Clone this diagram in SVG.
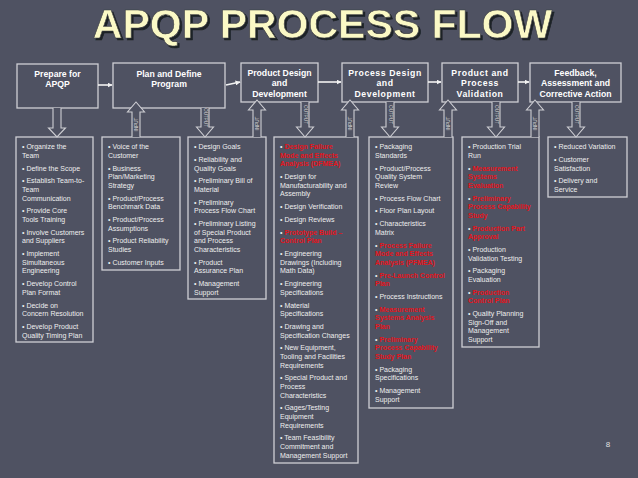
<svg xmlns="http://www.w3.org/2000/svg" width="638" height="478" viewBox="0 0 638 478">
<defs>
<marker id="ah" viewBox="0 0 10 10" refX="9" refY="5" markerWidth="5" markerHeight="5" orient="auto" markerUnits="userSpaceOnUse">
<path d="M0,0 L10,5 L0,10 Z" fill="#f2f2f2"/>
</marker>
<filter id="sh" x="-5%" y="-20%" width="110%" height="150%">
<feDropShadow dx="2" dy="2" stdDeviation="0.4" flood-color="#1f2027" flood-opacity="1"/>
</filter>
<style>
.bg{fill:#4f5262}
.box{fill:#4f5262;stroke:#cfcfd4;stroke-width:1.3}
.hd{font-family:"Liberation Sans",Arial,sans-serif;font-weight:bold;font-size:8.7px;fill:#ffffff;text-anchor:middle}
.hs{letter-spacing:0.6px}
.tx{font-family:"Liberation Sans",Arial,sans-serif;font-size:7px;fill:#eeeeee}
.r{fill:#e3141c;font-weight:bold}
.ln{stroke:#f2f2f2;stroke-width:1.6;fill:none}
.ba{fill:#4f5262;stroke:#cfcfd4;stroke-width:1.1}
.lb{font-family:"Liberation Sans",Arial,sans-serif;font-size:4.6px;fill:#d8d8d8;text-anchor:middle;dominant-baseline:central}
</style>
</defs>
<rect class="bg" x="0" y="0" width="638" height="478"/>
<g id="title">
<text x="322.5" y="38" font-family="'Liberation Sans',Arial,sans-serif" font-weight="bold" font-size="41" text-anchor="middle" fill="#fbf9c6" stroke="#3a3b40" stroke-width="0.6" filter="url(#sh)">APQP PROCESS FLOW</text>
</g>
<g id="prepare">
<rect class="box" x="17" y="64" width="81" height="44"/>
<text class="hd"><tspan x="57.5" y="76.5">Prepare for</tspan><tspan x="57.5" y="87">APQP</tspan></text>
</g>
<g id="plan">
<rect class="box" x="113" y="63" width="112" height="45"/>
<text class="hd"><tspan x="169" y="76.5">Plan and Define</tspan><tspan x="169" y="87">Program</tspan></text>
</g>
<g id="product-design">
<rect class="box" x="241" y="63" width="77" height="39"/>
<text class="hd"><tspan x="279.5" y="75.8">Product Design</tspan><tspan x="279.5" y="86.3">and</tspan><tspan x="279.5" y="96.8">Development</tspan></text>
</g>
<g id="process-design">
<rect class="box" x="342" y="63" width="86" height="39"/>
<text class="hd hs"><tspan x="385" y="75.8">Process Design</tspan><tspan x="385" y="86.3">and</tspan><tspan x="385" y="96.8">Development</tspan></text>
</g>
<g id="validation">
<rect class="box" x="442" y="63" width="76" height="39"/>
<text class="hd hs"><tspan x="480" y="75.8">Product and</tspan><tspan x="480" y="86.3">Process</tspan><tspan x="480" y="96.8">Validation</tspan></text>
</g>
<g id="feedback">
<rect class="box" x="530" y="63" width="91" height="39"/>
<text class="hd"><tspan x="575.5" y="75.8">Feedback,</tspan><tspan x="575.5" y="86.3">Assessment and</tspan><tspan x="575.5" y="96.8">Corrective Action</tspan></text>
</g>
<g id="col-prepare">
<rect class="box" x="16" y="137" width="77" height="205"/>
<text class="tx">
<tspan x="22" y="149.2">• Organize the</tspan><tspan x="22" dy="8.6">Team</tspan>
<tspan x="22" dy="12.8">• Define the Scope</tspan>
<tspan x="22" dy="12.8">• Establish Team-to-</tspan><tspan x="22" dy="8.6">Team</tspan><tspan x="22" dy="8.6">Communication</tspan>
<tspan x="22" dy="12.8">• Provide Core</tspan><tspan x="22" dy="8.6">Tools Training</tspan>
<tspan x="22" dy="12.8">• Involve Customers</tspan><tspan x="22" dy="8.6">and Suppliers</tspan>
<tspan x="22" dy="12.8">• Implement</tspan><tspan x="22" dy="8.6">Simultaneous</tspan><tspan x="22" dy="8.6">Engineering</tspan>
<tspan x="22" dy="12.8">• Develop Control</tspan><tspan x="22" dy="8.6">Plan Format</tspan>
<tspan x="22" dy="12.8">• Decide on</tspan><tspan x="22" dy="8.6">Concern Resolution</tspan>
<tspan x="22" dy="12.8">• Develop Product</tspan><tspan x="22" dy="8.6">Quality Timing Plan</tspan>
</text>
</g>
<g id="col-plan">
<rect class="box" x="102" y="137" width="78" height="133"/>
<text class="tx">
<tspan x="108" y="149.2">• Voice of the</tspan><tspan x="108" dy="8.6">Customer</tspan>
<tspan x="108" dy="12.8">• Business</tspan><tspan x="108" dy="8.6">Plan/Marketing</tspan><tspan x="108" dy="8.6">Strategy</tspan>
<tspan x="108" dy="12.8">• Product/Process</tspan><tspan x="108" dy="8.6">Benchmark Data</tspan>
<tspan x="108" dy="12.8">• Product/Process</tspan><tspan x="108" dy="8.6">Assumptions</tspan>
<tspan x="108" dy="12.8">• Product Reliability</tspan><tspan x="108" dy="8.6">Studies</tspan>
<tspan x="108" dy="12.8">• Customer Inputs</tspan>
</text>
</g>
<g id="col-plan-out">
<rect class="box" x="188" y="137" width="78" height="162"/>
<text class="tx">
<tspan x="194" y="149.2">• Design Goals</tspan>
<tspan x="194" dy="12.8">• Reliability and</tspan><tspan x="194" dy="8.6">Quality Goals</tspan>
<tspan x="194" dy="12.8">• Preliminary Bill of</tspan><tspan x="194" dy="8.6">Material</tspan>
<tspan x="194" dy="12.8">• Preliminary</tspan><tspan x="194" dy="8.6">Process Flow Chart</tspan>
<tspan x="194" dy="12.8">• Preliminary Listing</tspan><tspan x="194" dy="8.6">of Special Product</tspan><tspan x="194" dy="8.6">and Process</tspan><tspan x="194" dy="8.6">Characteristics</tspan>
<tspan x="194" dy="12.8">• Product</tspan><tspan x="194" dy="8.6">Assurance Plan</tspan>
<tspan x="194" dy="12.8">• Management</tspan><tspan x="194" dy="8.6">Support</tspan>
</text>
</g>
<g id="col-design-out">
<rect class="box" x="274" y="137" width="84" height="326"/>
<text class="tx">
<tspan x="280" y="149.2">• <tspan class="r">Design Failure</tspan></tspan><tspan x="280" dy="8.6" class="r">Mode and Effects</tspan><tspan x="280" dy="8.6" class="r">Analysis (DFMEA)</tspan>
<tspan x="280" dy="12.8">• Design for</tspan><tspan x="280" dy="8.6">Manufacturability and</tspan><tspan x="280" dy="8.6">Assembly</tspan>
<tspan x="280" dy="12.8">• Design Verification</tspan>
<tspan x="280" dy="12.8">• Design Reviews</tspan>
<tspan x="280" dy="12.8">• <tspan class="r">Prototype Build –</tspan></tspan><tspan x="280" dy="8.6" class="r">Control Plan</tspan>
<tspan x="280" dy="12.8">• Engineering</tspan><tspan x="280" dy="8.6">Drawings (Including</tspan><tspan x="280" dy="8.6">Math Data)</tspan>
<tspan x="280" dy="12.8">• Engineering</tspan><tspan x="280" dy="8.6">Specifications</tspan>
<tspan x="280" dy="12.8">• Material</tspan><tspan x="280" dy="8.6">Specifications</tspan>
<tspan x="280" dy="12.8">• Drawing and</tspan><tspan x="280" dy="8.6">Specification Changes</tspan>
<tspan x="280" dy="12.8">• New Equipment,</tspan><tspan x="280" dy="8.6">Tooling and Facilities</tspan><tspan x="280" dy="8.6">Requirements</tspan>
<tspan x="280" dy="12.8">• Special Product and</tspan><tspan x="280" dy="8.6">Process</tspan><tspan x="280" dy="8.6">Characteristics</tspan>
<tspan x="280" dy="12.8">• Gages/Testing</tspan><tspan x="280" dy="8.6">Equipment</tspan><tspan x="280" dy="8.6">Requirements</tspan>
<tspan x="280" dy="12.8">• Team Feasibility</tspan><tspan x="280" dy="8.6">Commitment and</tspan><tspan x="280" dy="8.6">Management Support</tspan>
</text>
</g>
<g id="col-process-out">
<rect class="box" x="369" y="137" width="84" height="271"/>
<text class="tx">
<tspan x="375" y="149.2">• Packaging</tspan><tspan x="375" dy="8.6">Standards</tspan>
<tspan x="375" dy="12.8">• Product/Process</tspan><tspan x="375" dy="8.6">Quality System</tspan><tspan x="375" dy="8.6">Review</tspan>
<tspan x="375" dy="12.8">• Process Flow Chart</tspan>
<tspan x="375" dy="12.8">• Floor Plan Layout</tspan>
<tspan x="375" dy="12.8">• Characteristics</tspan><tspan x="375" dy="8.6">Matrix</tspan>
<tspan x="375" dy="12.8">• <tspan class="r">Process Failure</tspan></tspan><tspan x="375" dy="8.6" class="r">Mode and Effects</tspan><tspan x="375" dy="8.6" class="r">Analysis (PFMEA)</tspan>
<tspan x="375" dy="12.8">• <tspan class="r">Pre-Launch Control</tspan></tspan><tspan x="375" dy="8.6" class="r">Plan</tspan>
<tspan x="375" dy="12.8">• Process Instructions</tspan>
<tspan x="375" dy="12.8">• <tspan class="r">Measurement</tspan></tspan><tspan x="375" dy="8.6" class="r">Systems Analysis</tspan><tspan x="375" dy="8.6" class="r">Plan</tspan>
<tspan x="375" dy="12.8">• <tspan class="r">Preliminary</tspan></tspan><tspan x="375" dy="8.6" class="r">Process Capability</tspan><tspan x="375" dy="8.6" class="r">Study Plan</tspan>
<tspan x="375" dy="12.8">• Packaging</tspan><tspan x="375" dy="8.6">Specifications</tspan>
<tspan x="375" dy="12.8">• Management</tspan><tspan x="375" dy="8.6">Support</tspan>
</text>
</g>
<g id="col-validation-out">
<rect class="box" x="462" y="137" width="77" height="210"/>
<text class="tx">
<tspan x="468" y="149.2">• Production Trial</tspan><tspan x="468" dy="8.6">Run</tspan>
<tspan x="468" dy="12.8">• <tspan class="r">Measurement</tspan></tspan><tspan x="468" dy="8.6" class="r">Systems</tspan><tspan x="468" dy="8.6" class="r">Evaluation</tspan>
<tspan x="468" dy="12.8">• <tspan class="r">Preliminary</tspan></tspan><tspan x="468" dy="8.6" class="r">Process Capability</tspan><tspan x="468" dy="8.6" class="r">Study</tspan>
<tspan x="468" dy="12.8">• <tspan class="r">Production Part</tspan></tspan><tspan x="468" dy="8.6" class="r">Approval</tspan>
<tspan x="468" dy="12.8">• Production</tspan><tspan x="468" dy="8.6">Validation Testing</tspan>
<tspan x="468" dy="12.8">• Packaging</tspan><tspan x="468" dy="8.6">Evaluation</tspan>
<tspan x="468" dy="12.8">• <tspan class="r">Production</tspan></tspan><tspan x="468" dy="8.6" class="r">Control Plan</tspan>
<tspan x="468" dy="12.8">• Quality Planning</tspan><tspan x="468" dy="8.6">Sign-Off and</tspan><tspan x="468" dy="8.6">Management</tspan><tspan x="468" dy="8.6">Support</tspan>
</text>
</g>
<g id="col-feedback-out">
<rect class="box" x="548" y="137" width="79" height="60"/>
<text class="tx">
<tspan x="554" y="149.2">• Reduced Variation</tspan>
<tspan x="554" dy="12.8">• Customer</tspan><tspan x="554" dy="8.6">Satisfaction</tspan>
<tspan x="554" dy="12.8">• Delivery and</tspan><tspan x="554" dy="8.6">Service</tspan>
</text>
</g>
<g id="connectors">
<line class="ln" x1="98" y1="85" x2="112" y2="85" marker-end="url(#ah)"/>
<line class="ln" x1="226" y1="85" x2="240" y2="82" marker-end="url(#ah)"/>
<line class="ln" x1="318" y1="82" x2="341" y2="82" marker-end="url(#ah)"/>
<line class="ln" x1="428" y1="82" x2="441" y2="82" marker-end="url(#ah)"/>
<line class="ln" x1="518" y1="82" x2="529" y2="82" marker-end="url(#ah)"/>
<path class="ba" d="M53,108 L53,128 L48.5,128 L57,137 L65.5,128 L61,128 L61,108"/>
<path class="ba" d="M201,108 L201,127 L196.5,127 L205,137 L213.5,127 L209,127 L209,108"/>
<text class="lb" transform="translate(205,117.5) rotate(90)">OUTPUT</text>
<path class="ba" d="M301,102 L301,127 L296.5,127 L305,137 L313.5,127 L309,127 L309,102"/>
<text class="lb" transform="translate(305,114.5) rotate(90)">OUTPUT</text>
<path class="ba" d="M386,102 L386,127 L381.5,127 L390,137 L398.5,127 L394,127 L394,102"/>
<text class="lb" transform="translate(390,114.5) rotate(90)">OUTPUT</text>
<path class="ba" d="M492,102 L492,127 L487.5,127 L496,137 L504.5,127 L500,127 L500,102"/>
<text class="lb" transform="translate(496,114.5) rotate(90)">OUTPUT</text>
<path class="ba" d="M572,102 L572,127 L567.5,127 L576,137 L584.5,127 L580,127 L580,102"/>
<text class="lb" transform="translate(576,114.5) rotate(90)">OUTPUT</text>
<path class="ba" d="M132,137 L132,112 L127.5,112 L136,102 L144.5,112 L140,112 L140,137"/>
<text class="lb" transform="translate(136,124.5) rotate(-90)">INPUT</text>
<path class="ba" d="M253,137 L253,110 L248.5,110 L257,100 L265.5,110 L261,110 L261,137"/>
<text class="lb" transform="translate(257,123.5) rotate(-90)">INPUT</text>
<path class="ba" d="M346,137 L346,110 L341.5,110 L350,100 L358.5,110 L354,110 L354,137"/>
<text class="lb" transform="translate(350,123.5) rotate(-90)">INPUT</text>
<path class="ba" d="M444,137 L444,110 L439.5,110 L448,100 L456.5,110 L452,110 L452,137"/>
<text class="lb" transform="translate(448,123.5) rotate(-90)">INPUT</text>
<path class="ba" d="M531,137 L531,110 L526.5,110 L535,100 L543.5,110 L539,110 L539,137"/>
<text class="lb" transform="translate(535,123.5) rotate(-90)">INPUT</text>
</g>
<text x="608" y="447" font-family="'Liberation Sans',Arial,sans-serif" font-size="8" fill="#e0e0e0" text-anchor="middle">8</text>
</svg>
